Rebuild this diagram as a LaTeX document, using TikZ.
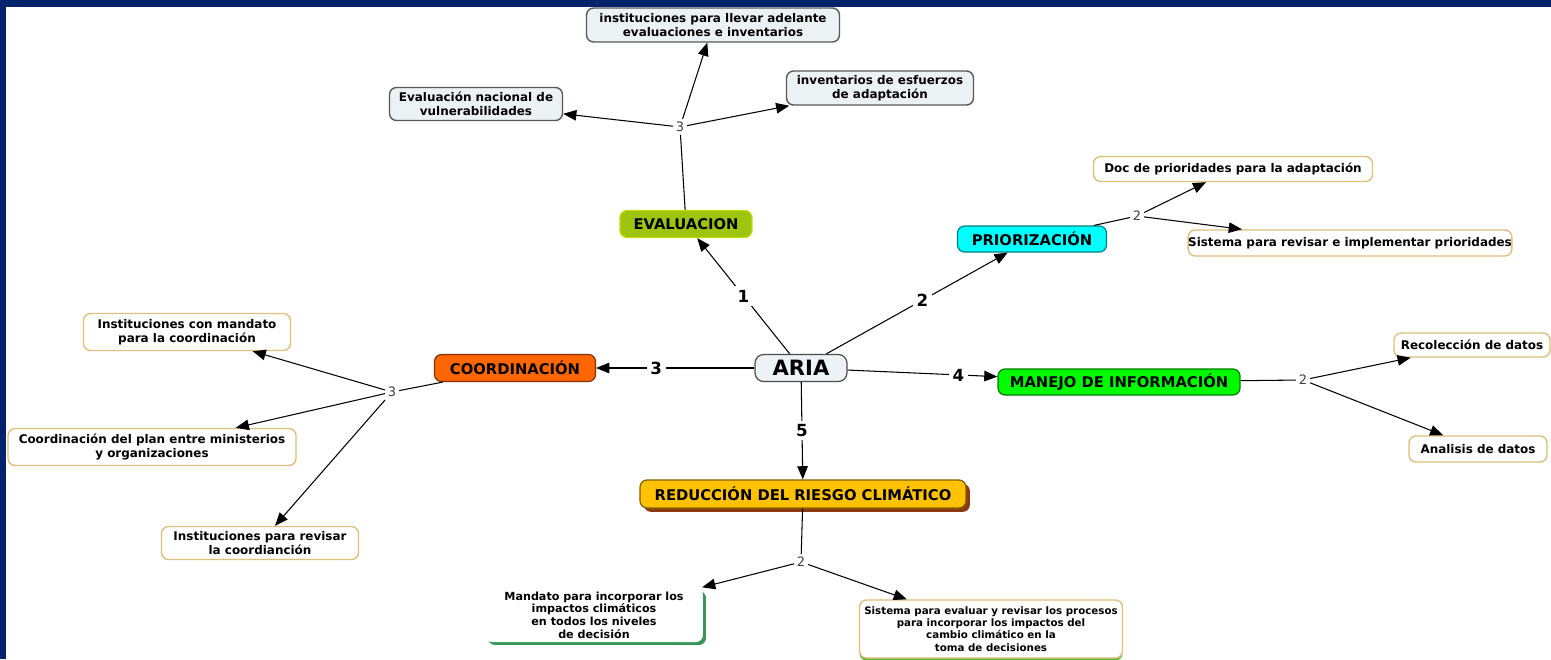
\documentclass[tikz,border=0pt]{standalone}
\usepackage{fontspec}
\setmainfont{DejaVu Sans}
\usepackage{tikz}
\usetikzlibrary{arrows.meta}
\usetikzlibrary{shadows}
\definecolor{frameblue}{RGB}{0,35,108}
\definecolor{ariafill}{RGB}{236,242,245}
\definecolor{evalfill}{RGB}{158,196,14}
\definecolor{priofill}{RGB}{0,255,255}
\definecolor{coordfill}{RGB}{255,102,0}
\definecolor{manejofill}{RGB}{0,250,0}
\definecolor{reducfill}{RGB}{255,194,0}
\definecolor{reducshade}{RGB}{140,58,18}
\definecolor{leafgray}{RGB}{236,241,243}
\definecolor{leaftan}{RGB}{222,192,120}
\definecolor{leafgreen}{RGB}{55,150,90}

\begin{document}
\begin{tikzpicture}[x=0.02cm,y=-0.02cm,
    mainbox/.style={draw=#1!50!black, fill=#1, rounded corners=4pt, line width=0.7pt, inner sep=0pt,
      minimum height=0.54cm, font=\bfseries\fontsize{8.4}{10}\selectfont},
    leaf/.style={draw=leaftan, fill=white, rounded corners=4pt, line width=0.8pt, inner sep=0pt,
      align=center, font=\bfseries\fontsize{6.8}{7.8}\selectfont},
    leafgrey/.style={leaf, draw=black!65, fill=leafgray},
    hub/.style={inner sep=1.5pt, text=black!75, font=\fontsize{7.4}{8}\selectfont},
    num/.style={fill=white, inner sep=2pt, font=\bfseries\fontsize{9.5}{11}\selectfont},
    link/.style={line width=0.6pt, -{Triangle[length=7.5pt,width=6pt]}},
    stem/.style={line width=0.6pt}]
    \useasboundingbox (0,0) rectangle (1551,659);
    \fill[white] (0,0) rectangle (1551,659);
    \fill[frameblue] (0,0) rectangle (1551,7);
    \fill[frameblue] (0,0) rectangle (6,659);

    % centre
    \node[draw=black!70, fill=ariafill, rounded corners=5pt, line width=0.7pt, minimum width=1.84cm, minimum height=0.54cm,
      font=\bfseries\fontsize{12}{14}\selectfont] (aria) at (801,368) {ARIA};

    % evaluacion
    \node[mainbox=evalfill, draw=evalfill!60!yellow, minimum width=2.64cm] (eval) at (686,224) {EVALUACION};
    \node[hub] (jeval) at (680,127) {3};
    \node[leafgrey, minimum width=5.06cm, minimum height=0.68cm] (inst) at (713,25) {instituciones para llevar adelante\\evaluaciones e inventarios};
    \node[leafgrey, minimum width=3.46cm, minimum height=0.66cm] (vulner) at (476,104) {Evaluación nacional de\\vulnerabilidades};
    \node[leafgrey, minimum width=3.74cm, minimum height=0.68cm] (invent) at (880,88) {inventarios de esfuerzos\\de adaptación};

    % priorizacion
    \node[mainbox=priofill, minimum width=2.98cm, minimum height=0.52cm] (prio) at (1032,239) {PRIORIZACIÓN};
    \node[hub] (jprio) at (1137,216) {2};
    \node[leaf, minimum width=5.58cm, minimum height=0.5cm] (docprio) at (1233,169) {Doc de prioridades para la adaptación};
    \node[leaf, minimum width=6.42cm, minimum height=0.52cm] (sisprio) at (1350,243) {Sistema para revisar e implementar prioridades};

    % coordinacion
    \node[mainbox=coordfill, minimum width=3.22cm] (coord) at (515,368) {COORDINACIÓN};
    \node[hub] (jcoord) at (392,392) {3};
    \node[leaf, minimum width=4.14cm, minimum height=0.74cm] (instmand) at (187,332) {Instituciones con mandato\\para la coordinación};
    \node[leaf, minimum width=5.76cm, minimum height=0.74cm] (coordplan) at (152,447) {Coordinación del plan entre ministerios\\y organizaciones};
    \node[leaf, minimum width=3.94cm, minimum height=0.66cm] (instrev) at (260,543) {Instituciones para revisar\\la coordianción};

    % manejo
    \node[mainbox=manejofill, minimum width=4.84cm, minimum height=0.52cm] (manejo) at (1119,382) {MANEJO DE INFORMACIÓN};
    \node[hub] (jman) at (1303,380) {2};
    \node[leaf, minimum width=3.12cm, minimum height=0.48cm] (recol) at (1472,345) {Recolección de datos};
    \node[leaf, minimum width=2.76cm, minimum height=0.52cm] (analisis) at (1478,449) {Analisis de datos};

    % reduccion
    \node[mainbox=reducfill, general shadow={fill=reducshade, shadow xshift=2.2pt, shadow yshift=-2.2pt},
      minimum width=6.52cm, minimum height=0.56cm] (reduc) at (803,494) {REDUCCIÓN DEL RIESGO CLIMÁTICO};
    \node[hub] (jred) at (801,562) {2};
    \node[leaf, draw=none, general shadow={fill=leafgreen, shadow xshift=1.7pt, shadow yshift=-1.7pt},
      minimum width=4.36cm, minimum height=1.08cm, font=\bfseries\fontsize{6.35}{7.2}\selectfont]
      (mandato) at (594,615) {Mandato para incorporar los\\impactos climáticos\\en todos los niveles\\de decisión};
    \node[leaf, general shadow={fill=leafgreen!70!lime, shadow yshift=-1.5pt},
      minimum width=5.26cm, minimum height=1.16cm, font=\bfseries\fontsize{5.85}{6.9}\selectfont]
      (siseval) at (991,629) {Sistema para evaluar y revisar los procesos\\para incorporar los impactos del\\cambio climático en la\\toma de decisiones};

    % links from the centre
    \draw[link] (aria) -- node[num]{1} (eval);
    \draw[link] (aria) -- node[num, pos=0.53]{2} (prio);
    \draw[link] (aria) -- node[num, pos=0.62]{3} (coord);
    \draw[link] (aria) -- node[num, pos=0.74]{4} (manejo);
    \draw[link] (aria) -- node[num]{5} (reduc);

    \draw[stem] (eval) -- (jeval);
    \draw[link] (jeval) -- (inst);
    \draw[link] (jeval) -- (vulner);
    \draw[link] (jeval) -- (invent);

    \draw[stem] (prio) -- (jprio);
    \draw[link] (jprio) -- (docprio);
    \draw[link] (jprio) -- (sisprio);

    \draw[stem] (coord) -- (jcoord);
    \draw[link] (jcoord) -- (instmand);
    \draw[link] (jcoord) -- (coordplan);
    \draw[link] (jcoord) -- (instrev);

    \draw[stem] (manejo) -- (jman);
    \draw[link] (jman) -- (recol);
    \draw[link] (jman) -- (analisis);

    \draw[stem] (reduc) -- (jred);
    \draw[link] (jred) -- (mandato);
    \draw[link] (jred) -- (siseval);
\end{tikzpicture}
\end{document}
